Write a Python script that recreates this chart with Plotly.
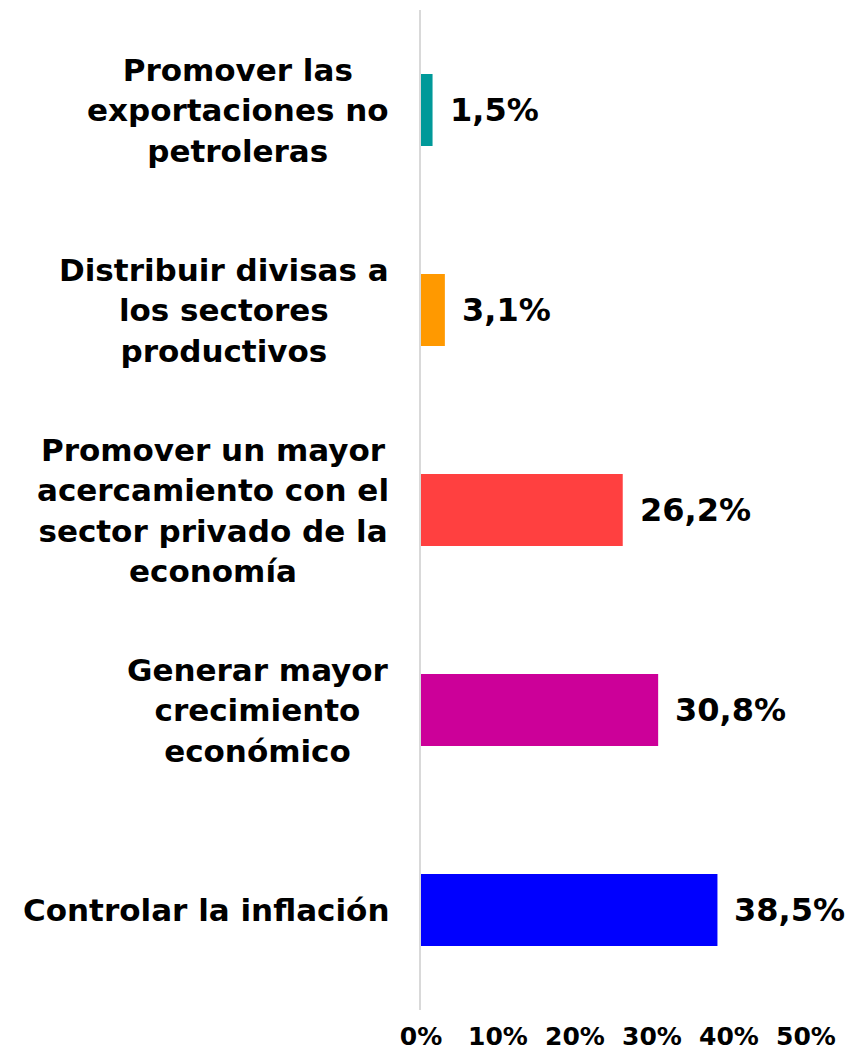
import plotly.graph_objects as go

# Survey answers, bottom-to-top order as drawn on the y axis
categories = [
    "Controlar la inflación",
    "Generar mayor<br>crecimiento<br>económico",
    "Promover un mayor<br>acercamiento con el<br>sector privado de la<br>economía",
    "Distribuir divisas a<br>los sectores<br>productivos",
    "Promover las<br>exportaciones no<br>petroleras",
]
values = [38.5, 30.8, 26.2, 3.1, 1.5]
colors = ["#0000FF", "#CC0099", "#FF4040", "#FF9900", "#009999"]
value_labels = ["38,5%", "30,8%", "26,2%", "3,1%", "1,5%"]
tick_values = [0, 10, 20, 30, 40, 50]
tick_labels = ["0%", "10%", "20%", "30%", "40%", "50%"]

FONT = "DejaVu Sans"

fig = go.Figure(
    go.Bar(
        x=values,
        y=categories,
        orientation="h",
        marker=dict(color=colors, line=dict(width=0)),
        width=0.36,
        hoverinfo="skip",
    )
)

annotations = []
# value labels to the right of each bar
for cat, val, lab in zip(categories, values, value_labels):
    annotations.append(
        dict(
            x=val, y=cat, xref="x", yref="y",
            text=f"<b>{lab}</b>", showarrow=False,
            xanchor="left", yanchor="middle", xshift=15,
            font=dict(family=FONT, size=32, color="#000000"),
        )
    )
# category labels, centred line by line, right-aligned to the axis
for cat in categories:
    annotations.append(
        dict(
            x=0, y=cat, xref="paper", yref="y",
            text=f"<b>{cat}</b>", showarrow=False,
            xanchor="right", yanchor="middle", xshift=-30,
            align="center",
            font=dict(family=FONT, size=31, color="#000000"),
        )
    )

fig.update_layout(
    width=856,
    height=1051,
    margin=dict(l=421, r=50, t=10, b=41, autoexpand=False),
    paper_bgcolor="white",
    plot_bgcolor="white",
    showlegend=False,
    annotations=annotations,
    xaxis=dict(
        range=[0, 50],
        tickmode="array",
        tickvals=tick_values,
        ticktext=[f"<b>{t}</b>" for t in tick_labels],
        tickfont=dict(family=FONT, size=25, color="#000000"),
        showgrid=False,
        zeroline=False,
        showline=False,
        ticks="",
        ticklabelstandoff=9,
        automargin=False,
        fixedrange=True,
    ),
    yaxis=dict(
        categoryorder="array",
        categoryarray=categories,
        showticklabels=False,
        showgrid=False,
        zeroline=False,
        showline=True,
        linecolor="#D9D9D9",
        linewidth=2,
        ticks="",
        automargin=False,
        fixedrange=True,
    ),
)

fig.write_html("out.html")
